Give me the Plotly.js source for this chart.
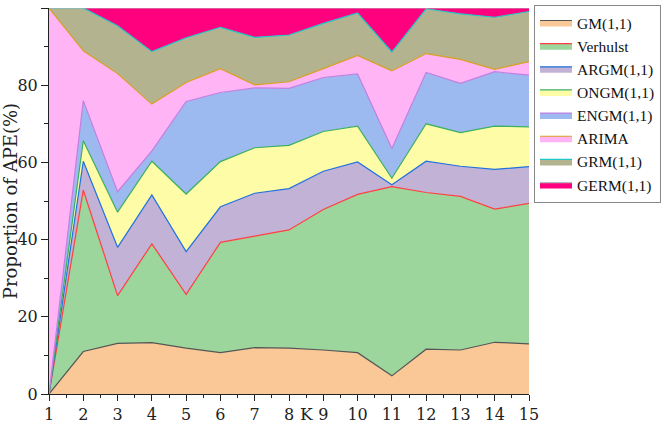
<!DOCTYPE html>
<html><head><meta charset="utf-8">
<script src="https://cdn.plot.ly/plotly-3.0.1.min.js"></script>
<style>html,body{margin:0;padding:0;background:#fff}#chart{width:666px;height:427px}</style>
</head><body><div id="chart"></div>
<script>
// K values (x axis)
const K = [1,2,3,4,5,6,7,8,9,10,11,12,13,14,15];
// Proportion of APE (%) per model, stacked
const GM       = [0, 11.0, 13.1, 13.3, 11.9, 10.7, 12.0, 11.9, 11.4, 10.7, 4.7, 11.6, 11.4, 13.4, 13.0];
const Verhulst = [0, 41.8, 12.4, 25.6, 13.9, 28.6, 28.9, 30.6, 36.4, 41.0, 49.0, 40.6, 39.8, 34.5, 36.4];
const ARGM     = [0, 7.5, 12.5, 12.7, 11.1, 9.2, 11.1, 10.7, 9.9, 8.4, 0.5, 8.1, 7.8, 10.3, 9.5];
const ONGM     = [0, 5.3, 9.1, 8.7, 14.9, 11.7, 11.8, 11.2, 10.3, 9.3, 1.7, 9.7, 8.7, 11.2, 10.3];
const ENGM     = [0, 10.4, 5.3, 2.7, 24.0, 17.9, 15.5, 14.8, 14.0, 13.5, 7.7, 13.3, 12.8, 14.1, 13.4];
const ARIMA    = [100, 12.9, 30.6, 12.1, 4.9, 6.2, 0.8, 1.7, 2.3, 4.8, 20.1, 4.9, 6.2, 0.6, 3.5];
const GRM      = [0, 11.1, 12.4, 13.6, 11.6, 10.7, 12.3, 12.1, 11.7, 11.0, 4.9, 11.6, 11.8, 13.5, 13.0];
const GERM     = [0, 0, 4.6, 11.3, 7.7, 5.0, 7.6, 7.0, 4.0, 1.3, 11.4, 0.2, 1.5, 2.4, 0.9];

const seriesNames = ['GM(1,1)','Verhulst','ARGM(1,1)','ONGM(1,1)','ENGM(1,1)','ARIMA','GRM(1,1)','GERM(1,1)'];
const seriesData = [GM, Verhulst, ARGM, ONGM, ENGM, ARIMA, GRM, GERM];
const fillColors = ['#FAC896','#9CD69C','#C2B2D6','#FFFCA8','#9CB9F0','#FFB5F5','#B3B38F','#FF007F'];
const lineColors = ['#555555','#FF4040','#2070E0','#3CB060','#C080E0','#D8A020','#20C8C8','#B8B8B8'];

const traces = seriesNames.map((name, i) => ({
  type: 'scatter',
  mode: 'lines',
  name: name,
  x: K,
  y: seriesData[i],
  stackgroup: 'one',
  fillcolor: fillColors[i],
  line: {color: lineColors[i], width: 1.2},
  hoverinfo: 'x+y+name'
}));

const tickFont = {family: 'DejaVu Serif', size: 16, color: '#222'};

const layout = {
  width: 666, height: 427,
  margin: {l: 49, r: 136, t: 5, b: 33},
  paper_bgcolor: '#fff', plot_bgcolor: '#fff',
  showlegend: true,
  legend: {
    x: 1.0104, xanchor: 'left', y: 1.008, yanchor: 'top',
    traceorder: 'normal',
    bgcolor: '#fff', bordercolor: '#888', borderwidth: 1,
    font: {family: 'Liberation Serif', size: 15.5, color: '#111'},
    itemwidth: 32
  },
  xaxis: {
    range: [1, 15], tickmode: 'array', tickvals: K, ticktext: K.map(String),
    ticks: 'outside', ticklen: 6, tickcolor: '#222',
    minor: {dtick: 0.5, ticks: 'outside', ticklen: 3, tickcolor: '#222'},
    showline: true, linecolor: '#222', linewidth: 1,
    showgrid: false, zeroline: false,
    tickfont: tickFont
  },
  yaxis: {
    range: [0, 100], tickmode: 'array', tickvals: [0,20,40,60,80,100],
    ticks: 'outside', ticklen: 7, tickcolor: '#222',
    minor: {tickvals: [10,30,50,70,90], ticks: 'outside', ticklen: 4, tickcolor: '#222'},
    showline: true, linecolor: '#222', linewidth: 1,
    showgrid: false, zeroline: false,
    tickfont: tickFont,
    title: {text: 'Proportion of APE(%)', font: {family: 'DejaVu Serif', size: 18, color: '#222'}, standoff: 4}
  },
  annotations: [{
    text: 'K', x: 8.5, xref: 'x', y: -0.052, yref: 'paper',
    xanchor: 'center', yanchor: 'middle', showarrow: false,
    font: {family: 'DejaVu Serif', size: 17, color: '#222'}
  }]
};

Plotly.newPlot('chart', traces, layout, {staticPlot: true, displayModeBar: false});
</script>
</body></html>
